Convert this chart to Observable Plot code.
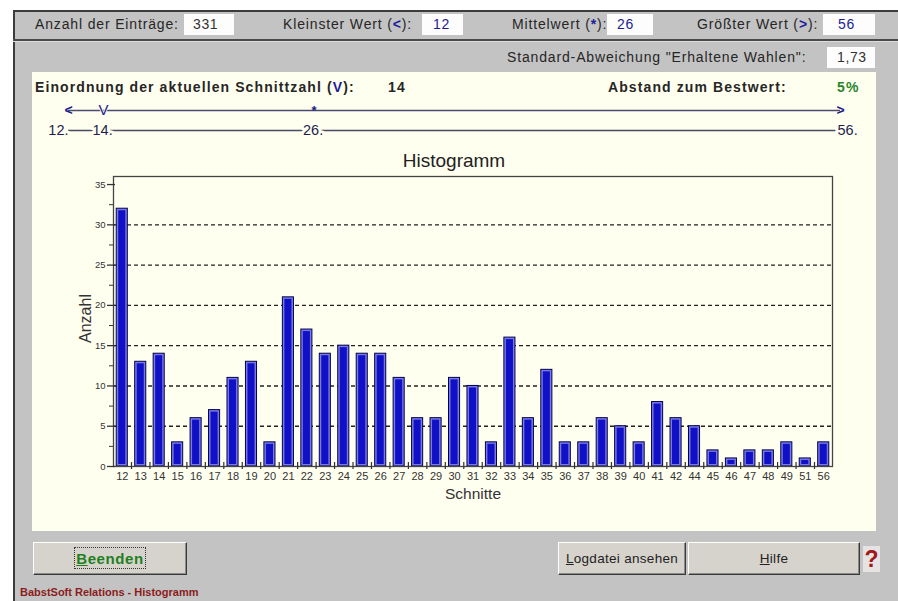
<!DOCTYPE html>
<html><head><meta charset="utf-8">
<script src="https://cdn.jsdelivr.net/npm/d3@7"></script>
<script src="https://cdn.jsdelivr.net/npm/@observablehq/plot@0.6"></script>
<style>
html,body{margin:0;padding:0;background:#fff;width:898px;height:601px;overflow:hidden;font-family:"Liberation Sans",Arial,sans-serif;}
#win{position:absolute;left:13px;top:10px;width:885px;height:591px;background:#c3c3c3;border-left:2px solid #3c3c3c;border-top:2px solid #3c3c3c;box-sizing:border-box;}
.abs{position:absolute;white-space:nowrap;}
.lbl{font-size:14px;letter-spacing:0.85px;color:#262626;line-height:18px;}
.box{background:#fdfdfd;font-size:14px;line-height:21px;letter-spacing:0.6px;box-sizing:border-box;}
.blue{color:#1c1c96;}
.bb{color:#1c1c9c;font-weight:bold;}
.bold{font-size:14px;font-weight:bold;letter-spacing:1.1px;color:#262626;line-height:18px;}
.btn{background:#d6d3cc;border:1px solid;border-color:#fff #3a3a3a #3a3a3a #fff;box-shadow:inset -1px -1px #8a8a8a;box-sizing:border-box;text-align:center;font-size:13.5px;color:#222;}
</style></head>
<body>
<div id="win"></div>
<div id="ui"></div>
<div id="skala" class="abs" style="left:32px;top:97px;"></div>
<div id="hist" class="abs" style="left:32px;top:145px;"></div>
<script>
// ---- Daten ----
const kategorien = [12,13,14,15,16,17,18,19,20,21,22,23,24,25,26,27,28,29,30,31,32,33,34,35,36,37,38,39,40,41,42,44,45,46,47,48,49,51,56];
const anzahl =     [32,13,14, 3, 6, 7,11,13, 3,21,17,14,15,14,14,11, 6, 6,11,10, 3,16, 6,12, 3, 3, 6, 5, 3, 8, 6, 5, 2, 1, 2, 2, 3, 1, 3];
const yTicks = [0,5,10,15,20,25,30,35];
const yMinorTicks = [2.5,7.5,12.5,17.5,22.5,27.5,32.5];
const gridTicks = [5,10,15,20,25,30];
const eintraege = 331;
const kleinsterWert = 12;
const mittelwert = 26;
const groessterWert = 56;
const aktuellerWert = 14;
const stdAbweichung = "1,73";
const abstandBestwert = "5%";
const skalaWerte = [12, 14, 26, 56];
const skalaZeichen = ["<", "V", "*", ">"];
const skalaTexte = ["12.", "14.", "26.", "56."];

// ---- Oberfläche ----
const ui = document.getElementById("ui");
function add(html, style, cls){const d=document.createElement("div");d.className="abs "+(cls||"");d.setAttribute("style",style);d.innerHTML=html;ui.appendChild(d);return d;}
add("Anzahl der Einträge:", "left:35px;top:15px;", "lbl");
add(String(eintraege), "left:184px;top:14px;width:50px;height:21px;padding-left:9px;color:#333;", "box");
add('Kleinster Wert (<b class="bb">&lt;</b>):', "left:283px;top:15px;", "lbl");
add(String(kleinsterWert), "left:422px;top:14px;width:41px;height:21px;padding-left:11px;", "box blue");
add('Mittelwert (<span class="bb">*</span>):', "left:512px;top:15px;", "lbl");
add(String(mittelwert), "left:607px;top:14px;width:46px;height:21px;padding-left:10px;", "box blue");
add('Größter Wert (<b class="bb">&gt;</b>):', "left:697px;top:15px;", "lbl");
add(String(groessterWert), "left:823px;top:14px;width:52px;height:21px;padding-left:15px;", "box blue");
add("", "left:13px;top:39px;width:885px;height:2px;background:#4a4a4a;");
add("", "left:13px;top:41px;width:885px;height:1px;background:#dcdcdc;");
add('Standard-Abweichung "Erhaltene Wahlen":', "left:507px;top:48px;", "lbl");
add(stdAbweichung, "left:827px;top:47px;width:48px;height:21px;padding-left:10px;color:#333;", "box");
// cream panel
add("", "left:32px;top:72px;width:844px;height:459px;background:#fffff0;");
add('Einordnung der aktuellen Schnittzahl (<span class="bb">V</span>):', "left:35px;top:78px;", "bold");
add(String(aktuellerWert), "left:388px;top:78px;", "bold bb");
add("Abstand zum Bestwert:", "left:608px;top:78px;", "bold");
add(abstandBestwert, "left:837px;top:78px;color:#2a862a;", "bold");
// buttons
add('<span style="display:inline-block;margin-top:5px;padding:1px 1px 0 1px;outline:1px dotted #333;color:#1f7f1f;font-weight:bold;font-size:15px;letter-spacing:0.6px;line-height:19px;"><u>B</u>eenden</span>', "left:33px;top:542px;width:154px;height:33px;", "btn");
add('<span style="display:inline-block;margin-top:8px;letter-spacing:0.3px;"><u>L</u>ogdatei ansehen</span>', "left:558px;top:542px;width:128px;height:33px;", "btn");
add('<span style="display:inline-block;margin-top:8px;letter-spacing:0.3px;"><u>H</u>ilfe</span>', "left:688px;top:542px;width:172px;height:33px;", "btn");
add("?", "left:863px;top:546px;width:17px;height:26px;background:#e6e3e3;color:#a3161b;font-weight:bold;font-size:23px;line-height:26px;text-align:center;");
add("BabstSoft Relations - Histogramm", "left:20px;top:585px;font-size:11px;font-weight:bold;color:#8a1c1c;line-height:14px;");

// ---- Skala (Einordnung) ----
const halo = {stroke: "#fffff0", strokeWidth: 6, paintOrder: "stroke", fill: "#1e1e4e", fontSize: 14.5};
const sk = Plot.plot({
  width: 844, height: 45, marginLeft: 36, marginRight: 36, marginTop: 13, marginBottom: 12,
  style: {background: "transparent", fontFamily: "'Liberation Sans Narrow','Liberation Sans',Arial,sans-serif", overflow: "visible"},
  x: {domain: [kleinsterWert, groessterWert], axis: null},
  y: {type: "point", domain: ["marke", "wert"], padding: 0, axis: null},
  marks: [
    Plot.ruleY(["marke"], {y: d => d, x1: kleinsterWert, x2: groessterWert, stroke: "#4a4a70", strokeWidth: 1.6}),
    Plot.ruleY(["wert"], {y: d => d, x1: kleinsterWert, x2: groessterWert, stroke: "#4a4a62", strokeWidth: 1.6}),
    Plot.text([skalaWerte[0], skalaWerte[3]], {x: d => d, y: () => "marke", text: (d, i) => [skalaZeichen[0], skalaZeichen[3]][i], fill: "#1c1c8c", fontWeight: "bold", fontSize: 14}),
    Plot.text([skalaWerte[1]], {x: d => d, y: () => "marke", text: () => skalaZeichen[1], fill: "#1c1c8c", fontSize: 15, stroke: "#fffff0", strokeWidth: 1.5, paintOrder: "stroke"}),
    Plot.text([skalaWerte[2]], {x: d => d, y: () => "marke", text: () => skalaZeichen[2], fill: "#1c1c8c", fontSize: 13, fontWeight: "bold", dy: 0}),
    Plot.text(skalaWerte.slice(0, 1), {x: d => d, y: () => "wert", text: (d, i) => skalaTexte[i], textAnchor: "end", ...halo}),
    Plot.text(skalaWerte.slice(1, 3), {x: d => d, y: () => "wert", text: (d, i) => skalaTexte[i + 1], textAnchor: "middle", dx: -1, ...halo}),
    Plot.text(skalaWerte.slice(3), {x: d => d, y: () => "wert", text: (d, i) => skalaTexte[i + 3], textAnchor: "start", dx: -3, ...halo})
  ]
});
document.getElementById("skala").appendChild(sk);

// ---- Histogramm ----
const daten = kategorien.map((k, i) => ({schnitt: String(k), anzahl: anzahl[i]}));
function histogramm(halbSchritt) {
  return Plot.plot({
    width: 844, height: 370, marginLeft: 81, marginRight: 44, marginTop: 31, marginBottom: 49,
    style: {background: "transparent", fontFamily: "'Liberation Sans',Arial,sans-serif", color: "#333", overflow: "visible"},
    x: {type: "band", domain: kategorien.map(String), paddingInner: 0.4, paddingOuter: 0.175, align: 0.5, round: false, axis: null},
    y: {domain: [0, 36], axis: null},
    marks: [
      Plot.gridY(gridTicks, {stroke: "#222", strokeOpacity: 1, strokeWidth: 1.4, strokeDasharray: "4,3"}),
      Plot.barY(daten, {x: "schnitt", y: "anzahl", fill: "#7a7ae6", stroke: "#00004c", strokeWidth: 1}),
      Plot.barY(daten, {x: "schnitt", y: "anzahl", fill: "#1010c6", inset: 2}),
      Plot.frame({stroke: "#444", strokeWidth: 1.3}),
      Plot.axisY(yTicks, {tickSize: 8, dx: 2, tickFormat: () => "", label: null, strokeWidth: 1.3}),
      Plot.axisY(yMinorTicks, {tickSize: 4, tickFormat: () => "", label: null}),
      Plot.axisY(yTicks, {tickSize: 0, tickPadding: 8, fontSize: 9.5, label: null, fill: "#333"}),
      Plot.axisX(kategorien.slice(0, -1).map(String), {tickSize: 7, dy: -4, dx: halbSchritt, tickFormat: () => "", label: null, strokeWidth: 1.2}),
      Plot.axisX({tickSize: 0, tickPadding: 6, fontSize: 11, label: null, fill: "#333"}),
      Plot.text(["Histogramm"], {text: d => d, frameAnchor: "top", lineAnchor: "middle", dx: -19, dy: -16, fontSize: 19, fill: "#222"}),
      Plot.text(["Schnitte"], {text: d => d, frameAnchor: "bottom", lineAnchor: "middle", dy: 28, fontSize: 15.5, fill: "#333"}),
      Plot.text(["Anzahl"], {text: d => d, frameAnchor: "left", textAnchor: "middle", lineAnchor: "middle", dx: -28, dy: -3, rotate: -90, fontSize: 16, fill: "#333"})
    ]
  });
}
const probe = histogramm(0);
const xs = probe.scale("x");
const schritt = xs.step ?? (xs.bandwidth / 0.6);
document.getElementById("hist").appendChild(histogramm(schritt / 2));
</script>
</body></html>
